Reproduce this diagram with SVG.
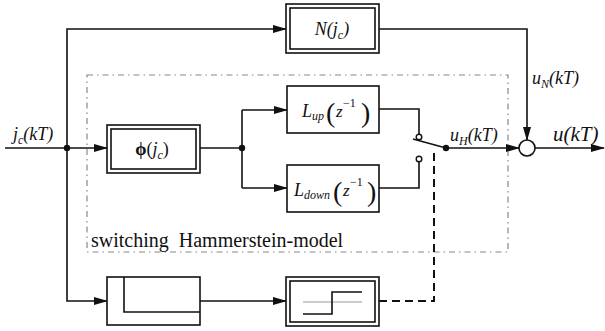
<svg xmlns="http://www.w3.org/2000/svg" width="605" height="331" viewBox="0 0 605 331">
  <style>
    .ln { fill: none; stroke: #111; stroke-width: 1.6; }
    .box { fill: #fff; stroke: #111; stroke-width: 1.6; }
    .dbl { fill: none; stroke: #111; stroke-width: 1.6; }
    .frame { fill: none; stroke: #888; stroke-width: 1.2; stroke-dasharray: 6 4 1.5 4; }
    .dash { fill: none; stroke: #111; stroke-width: 2; stroke-dasharray: 8 5; }
    .t { font-family: "Liberation Serif", "Times New Roman", serif; fill: #111; }
    .it { font-style: italic; }
    .dot { fill: #111; }
  </style>
  <defs>
    <marker id="arr" markerWidth="14" markerHeight="8" refX="13" refY="4" orient="auto" markerUnits="userSpaceOnUse">
      <path d="M0,0 L14,4 L0,8 Z" fill="#111"/>
    </marker>
  </defs>

  <!-- dash-dot frame of the switching model -->
  <rect class="frame" x="87" y="75" width="421" height="177"/>

  <g id="connectors">
    <!-- input and branches -->
    <path class="ln" d="M5,148 H107" marker-end="url(#arr)"/>
    <path class="ln" d="M67,148 V29 H286" marker-end="url(#arr)"/>
    <path class="ln" d="M67,148 V301 H107" marker-end="url(#arr)"/>
    <circle class="dot" cx="67" cy="148" r="3.2"/>
    <!-- phi to the two linear blocks -->
    <path class="ln" d="M200,148 H242"/>
    <path class="ln" d="M242,110 V188"/>
    <path class="ln" d="M242,110 H287" marker-end="url(#arr)"/>
    <path class="ln" d="M242,188 H287" marker-end="url(#arr)"/>
    <circle class="dot" cx="242" cy="148" r="3.2"/>
    <!-- linear block outputs to switch contacts -->
    <path class="ln" d="M379,109 H419 V134"/>
    <path class="ln" d="M379,188 H419 V162"/>
    <circle cx="419" cy="137" r="2.8" fill="#fff" stroke="#111" stroke-width="1.4"/>
    <circle cx="419" cy="159" r="2.8" fill="#fff" stroke="#111" stroke-width="1.4"/>
    <!-- switch arm -->
    <path class="ln" d="M413,139 L446,148"/>
    <circle class="dot" cx="446" cy="148" r="3.2"/>
    <path class="ln" d="M446,148 H519" marker-end="url(#arr)"/>
    <!-- N path to summing point -->
    <path class="ln" d="M379,29 H527 V140" marker-end="url(#arr)"/>
    <!-- summing point and output -->
    <circle cx="527" cy="148" r="8" fill="#fff" stroke="#111" stroke-width="1.6"/>
    <path class="ln" d="M535,148 H604" marker-end="url(#arr)"/>
    <!-- lower path -->
    <path class="ln" d="M200,301 H286" marker-end="url(#arr)"/>
    <path class="dash" d="M379,301 H434 V152"/>
  </g>

  <g id="N">
    <rect class="box" x="286" y="4" width="93" height="49"/>
    <rect class="dbl" x="290" y="8" width="85" height="41"/>
    <text class="t it" x="332" y="35" font-size="18" text-anchor="middle">N(j<tspan font-size="12" dy="4">c</tspan><tspan dy="-4">)</tspan></text>
  </g>

  <g id="phi">
    <rect class="box" x="107" y="125" width="93" height="48"/>
    <rect class="dbl" x="111" y="129" width="85" height="40"/>
    <text class="t" x="152" y="155" font-size="18" text-anchor="middle"><tspan font-weight="bold">ϕ</tspan>(<tspan font-style="italic">j</tspan><tspan font-style="italic" font-size="12" dy="4">c</tspan><tspan dy="-4">)</tspan></text>
  </g>

  <g id="Lup">
    <rect class="box" x="287" y="86" width="92" height="47"/>
    <text class="t it" x="302" y="117" font-size="18">L<tspan font-size="12" dy="3">up</tspan></text>
    <text class="t" x="326" y="122" font-size="28">(</text>
    <text class="t it" x="336" y="117" font-size="17">z</text>
    <text class="t" x="343" y="107" font-size="12">−1</text>
    <text class="t" x="361" y="122" font-size="28">)</text>
  </g>

  <g id="Ldown">
    <rect class="box" x="287" y="165" width="92" height="47"/>
    <text class="t it" x="294" y="196" font-size="18">L<tspan font-size="12" dy="3">down</tspan></text>
    <text class="t" x="333" y="201" font-size="28">(</text>
    <text class="t it" x="343" y="196" font-size="17">z</text>
    <text class="t" x="350" y="186" font-size="12">−1</text>
    <text class="t" x="367" y="201" font-size="28">)</text>
  </g>

  <g id="delay">
    <rect class="box" x="107" y="277" width="93" height="48"/>
    <path class="ln" d="M124,277 V312 H200"/>
  </g>

  <g id="hysteresis">
    <rect class="box" x="286" y="277" width="93" height="49"/>
    <rect class="dbl" x="290" y="281" width="85" height="41"/>
    <path d="M303,302 H362" stroke="#999" stroke-width="1.2" fill="none"/>
    <path class="ln" d="M303,314 H332 V292 H362" stroke-width="1.4"/>
  </g>

  <g id="labels">
    <text class="t it" x="13" y="140" font-size="18">j<tspan font-size="12" dy="4">c</tspan><tspan dy="-4">(kT)</tspan></text>
    <text class="t it" x="532" y="84" font-size="18">u<tspan font-size="12" dy="4">N</tspan><tspan dy="-4">(kT)</tspan></text>
    <text class="t it" x="450" y="141" font-size="18">u<tspan font-size="12" dy="4">H</tspan><tspan dy="-4">(kT)</tspan></text>
    <text class="t it" x="553" y="141" font-size="21">u(kT)</text>
    <text class="t" x="91" y="247" font-size="20" xml:space="preserve">switching  Hammerstein-model</text>
  </g>
</svg>
